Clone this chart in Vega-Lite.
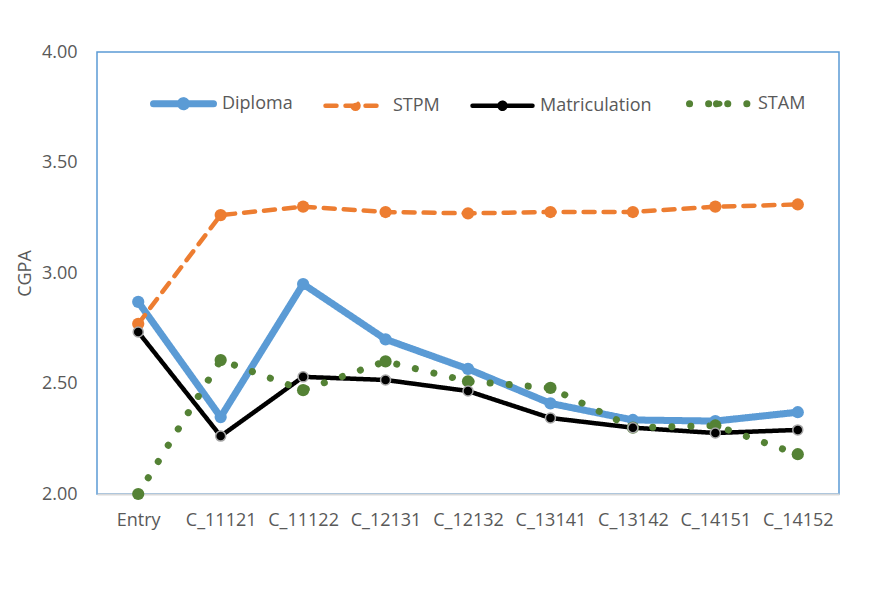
{
  "$schema": "https://vega.github.io/schema/vega-lite/v6.json",
  "autosize": {"type": "none"},
  "width": 742,
  "height": 442,
  "padding": {"left": 97, "top": 52, "right": 47, "bottom": 99},
  "background": "white",
  "config": {
    "font": "Open Sans",
    "view": {"stroke": "#5B9BD5", "strokeWidth": 1.5},
    "axis": {"labelFont": "Open Sans", "titleFont": "Open Sans", "labelColor": "#595959", "titleColor": "#595959", "labelFontSize": 18, "titleFontSize": 18, "titleFontWeight": "normal"},
    "legend": {"labelFont": "Open Sans", "labelFontSize": 18, "labelColor": "#595959", "padding": 0, "symbolSize": 3600}
  },
  "data": {
    "values": [
      {"cat": "Entry", "series": "Diploma", "v": 2.869},
      {"cat": "C_11121", "series": "Diploma", "v": 2.348},
      {"cat": "C_11122", "series": "Diploma", "v": 2.95},
      {"cat": "C_12131", "series": "Diploma", "v": 2.70},
      {"cat": "C_12132", "series": "Diploma", "v": 2.566},
      {"cat": "C_13141", "series": "Diploma", "v": 2.41},
      {"cat": "C_13142", "series": "Diploma", "v": 2.335},
      {"cat": "C_14151", "series": "Diploma", "v": 2.33},
      {"cat": "C_14152", "series": "Diploma", "v": 2.37},
      {"cat": "Entry", "series": "STPM", "v": 2.77},
      {"cat": "C_11121", "series": "STPM", "v": 3.262},
      {"cat": "C_11122", "series": "STPM", "v": 3.30},
      {"cat": "C_12131", "series": "STPM", "v": 3.276},
      {"cat": "C_12132", "series": "STPM", "v": 3.27},
      {"cat": "C_13141", "series": "STPM", "v": 3.276},
      {"cat": "C_13142", "series": "STPM", "v": 3.276},
      {"cat": "C_14151", "series": "STPM", "v": 3.30},
      {"cat": "C_14152", "series": "STPM", "v": 3.31},
      {"cat": "Entry", "series": "Matriculation", "v": 2.733},
      {"cat": "C_11121", "series": "Matriculation", "v": 2.262},
      {"cat": "C_11122", "series": "Matriculation", "v": 2.53},
      {"cat": "C_12131", "series": "Matriculation", "v": 2.516},
      {"cat": "C_12132", "series": "Matriculation", "v": 2.466},
      {"cat": "C_13141", "series": "Matriculation", "v": 2.344},
      {"cat": "C_13142", "series": "Matriculation", "v": 2.30},
      {"cat": "C_14151", "series": "Matriculation", "v": 2.276},
      {"cat": "C_14152", "series": "Matriculation", "v": 2.29},
      {"cat": "Entry", "series": "STAM", "v": 2.00},
      {"cat": "C_11121", "series": "STAM", "v": 2.606},
      {"cat": "C_11122", "series": "STAM", "v": 2.47},
      {"cat": "C_12131", "series": "STAM", "v": 2.60},
      {"cat": "C_12132", "series": "STAM", "v": 2.51},
      {"cat": "C_13141", "series": "STAM", "v": 2.48},
      {"cat": "C_13142", "series": "STAM", "v": 2.30},
      {"cat": "C_14151", "series": "STAM", "v": 2.31},
      {"cat": "C_14152", "series": "STAM", "v": 2.18}
    ]
  },
  "encoding": {
    "x": {
      "field": "cat", "type": "ordinal",
      "sort": ["Entry", "C_11121", "C_11122", "C_12131", "C_12132", "C_13141", "C_13142", "C_14151", "C_14152"],
      "scale": {"type": "point", "padding": 0.5},
      "axis": {"title": null, "labelAngle": 0, "ticks": false, "domainColor": "#D9D9D9", "domainWidth": 2, "labelPadding": 17}
    },
    "y": {
      "field": "v", "type": "quantitative",
      "scale": {"domain": [2, 4], "nice": false, "zero": false},
      "axis": {"title": "CGPA", "values": [2, 2.5, 3, 3.5, 4], "format": ".2f", "grid": false, "ticks": false, "domain": false, "labelPadding": 20, "titlePadding": 7}
    }
  },
  "layer": [
    {
      "mark": {"type": "line", "strokeCap": "round", "strokeJoin": "round"},
      "encoding": {
        "color": {
          "field": "series", "type": "nominal",
          "scale": {"domain": ["Diploma", "STPM", "Matriculation", "STAM"], "range": ["#5B9BD5", "#ED7D31", "#000000", "#548235"]},
          "legend": {
            "title": null, "orient": "none", "direction": "horizontal", "legendX": 53, "legendY": 18,
            "symbolType": "M-1,0H1M-0.1,0A0.1,0.1,0,1,0,0.1,0A0.1,0.1,0,1,0,-0.1,0Z",
            "symbolSize": 3600, "labelOffset": 5, "columnPadding": 23,
            "encode": {"symbols": {"update": {"fill": {"scale": "color", "field": "value"}, "strokeCap": {"value": "round"}}}}
          }
        },
        "strokeWidth": {
          "field": "series", "type": "nominal",
          "scale": {"type": "ordinal", "domain": ["Diploma", "STPM", "Matriculation", "STAM"], "range": [7, 4.5, 4.5, 7]}
        },
        "strokeDash": {
          "field": "series", "type": "nominal",
          "scale": {"domain": ["Diploma", "STPM", "Matriculation", "STAM"], "range": [[1, 0], [11, 9], [1, 0], [0.1, 19]]}
        }
      }
    },
    {
      "transform": [{"filter": "datum.series !== 'Matriculation'"}],
      "mark": {"type": "point", "filled": true, "opacity": 1, "size": 150},
      "encoding": {
        "fill": {
          "field": "series", "type": "nominal",
          "scale": {"domain": ["Diploma", "STPM", "Matriculation", "STAM"], "range": ["#5B9BD5", "#ED7D31", "#000000", "#548235"]},
          "legend": null
        }
      }
    },
    {
      "transform": [{"filter": "datum.series === 'Matriculation'"}],
      "mark": {"type": "point", "filled": true, "opacity": 1, "size": 100, "fill": "#000000", "stroke": "#A6A6A6", "strokeWidth": 1.5}
    }
  ]
}
